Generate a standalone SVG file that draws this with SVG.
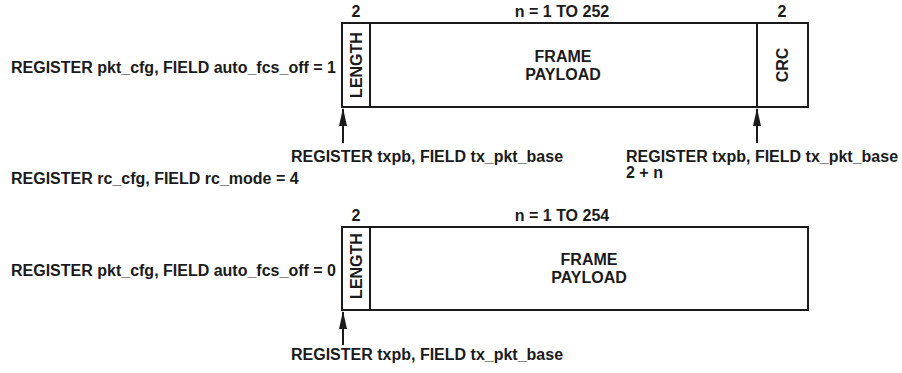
<svg xmlns="http://www.w3.org/2000/svg" width="902" height="373" viewBox="0 0 902 373">
<style>
text{font-family:"Liberation Sans",Arial,sans-serif;font-weight:bold;font-size:16px;fill:#1a1a1a}
.c{text-anchor:middle}
.box{fill:#fff;stroke:#1a1a1a;stroke-width:2}
.ln{stroke:#1a1a1a;stroke-width:2;fill:none}
</style>
<defs>
<marker id="ah" viewBox="0 0 18 8" refX="17" refY="4" markerWidth="18" markerHeight="8" markerUnits="userSpaceOnUse" orient="auto">
<path d="M0,0 L18,4 L0,8 Z" fill="#1a1a1a"/>
</marker>
</defs>
<rect width="902" height="373" fill="#fff"/>
<g id="labels">
<text x="11" y="73">REGISTER pkt_cfg, FIELD auto_fcs_off = 1</text>
<text x="11" y="184">REGISTER rc_cfg, FIELD rc_mode = 4</text>
<text x="11" y="276">REGISTER pkt_cfg, FIELD auto_fcs_off = 0</text>
</g>
<g id="frame1">
<rect class="box" x="342" y="23" width="466" height="84"/>
<line class="ln" x1="370" y1="23" x2="370" y2="107"/>
<line class="ln" x1="757" y1="23" x2="757" y2="107"/>
<text class="c" x="356" y="17">2</text>
<text class="c" x="562" y="17">n = 1 TO 252</text>
<text class="c" x="782" y="17">2</text>
<text class="c" transform="translate(362 65) rotate(-90)">LENGTH</text>
<text class="c" x="563" y="62">FRAME</text>
<text class="c" x="563" y="80">PAYLOAD</text>
<text class="c" transform="translate(788 65) rotate(-90)">CRC</text>
</g>
<g id="frame2">
<rect class="box" x="342" y="227" width="466" height="83"/>
<line class="ln" x1="370" y1="227" x2="370" y2="310"/>
<text class="c" x="356" y="221">2</text>
<text class="c" x="562" y="221">n = 1 TO 254</text>
<text class="c" transform="translate(362 266) rotate(-90)">LENGTH</text>
<text class="c" x="589" y="265">FRAME</text>
<text class="c" x="589" y="283">PAYLOAD</text>
</g>
<g id="connectors">
<line class="ln" x1="343" y1="143" x2="343" y2="109" marker-end="url(#ah)"/>
<line class="ln" x1="757" y1="143" x2="757" y2="109" marker-end="url(#ah)"/>
<line class="ln" x1="343" y1="345" x2="343" y2="312" marker-end="url(#ah)"/>
</g>
<g id="pointer-labels">
<text x="291" y="162">REGISTER txpb, FIELD tx_pkt_base</text>
<text x="626" y="162">REGISTER txpb, FIELD tx_pkt_base</text>
<text x="626" y="178">2 + n</text>
<text x="291" y="360">REGISTER txpb, FIELD tx_pkt_base</text>
</g>
</svg>
